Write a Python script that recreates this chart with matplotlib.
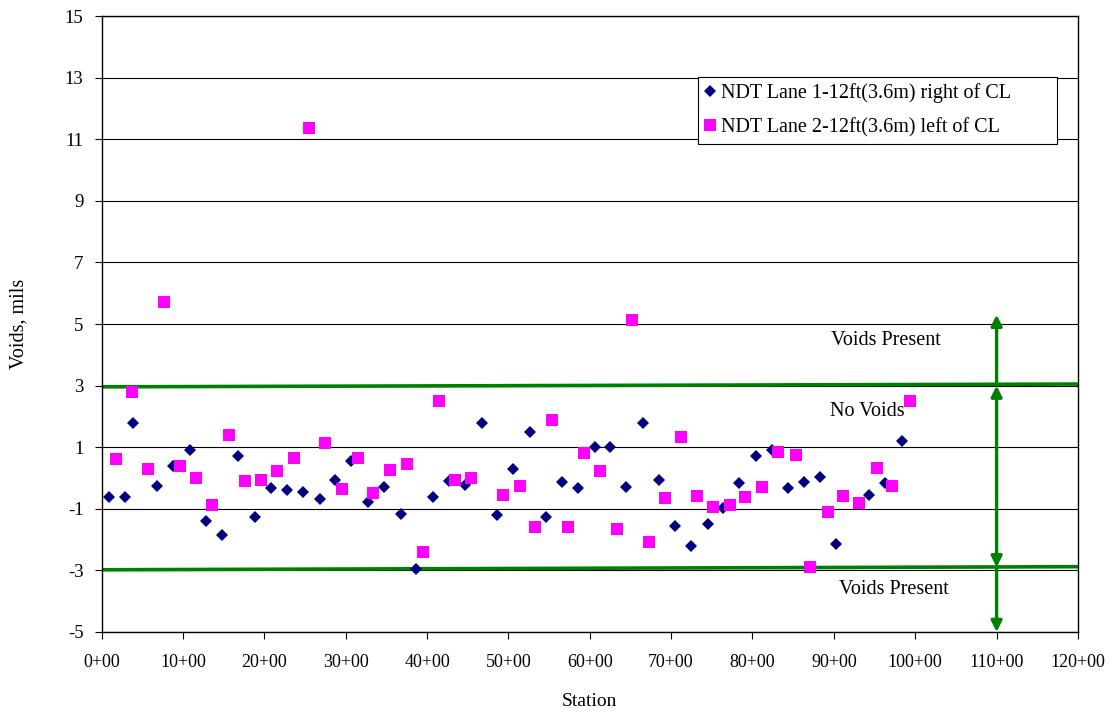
import matplotlib
matplotlib.use("Agg")
import matplotlib.pyplot as plt

# ---- data ----
lane1_station = [0.9, 2.85, 3.9, 6.85, 8.75, 10.85, 12.8, 14.8, 16.8, 18.8, 20.8, 22.8, 24.7, 26.8, 28.7,
                 30.65, 32.8, 34.7, 36.75, 38.7, 40.7, 42.7, 44.7, 46.7, 48.6, 50.6, 52.6, 54.6, 56.6, 58.6,
                 60.6, 62.55, 64.5, 66.5, 68.5, 70.5, 72.5, 74.5, 76.4, 78.4, 80.4, 82.4, 84.4, 86.3, 88.35,
                 90.3, 94.3, 96.3, 98.4]
lane1_voids = [-0.62, -0.61, 1.77, -0.25, 0.39, 0.91, -1.40, -1.85, 0.70, -1.27, -0.34, -0.38, -0.45, -0.68, -0.07,
               0.54, -0.78, -0.30, -1.17, -2.94, -0.62, -0.11, -0.24, 1.79, -1.19, 0.29, 1.50, -1.27, -0.13, -0.34,
               1.02, 1.02, -0.30, 1.77, -0.07, -1.55, -2.22, -1.50, -0.97, -0.16, 0.70, 0.90, -0.34, -0.12, 0.04,
               -2.13, -0.56, -0.16, 1.19]

lane2_station = [1.74, 3.7, 5.7, 7.68, 9.7, 11.65, 13.6, 15.66, 17.6, 19.6, 21.6, 23.6, 25.5, 27.5, 29.5,
                 31.5, 33.4, 35.5, 37.5, 39.5, 41.5, 43.4, 45.4, 49.4, 51.4, 53.3, 55.4, 57.3, 59.3, 61.3,
                 63.3, 65.2, 67.3, 69.3, 71.2, 73.2, 75.2, 77.2, 79.1, 81.2, 83.1, 85.3, 87.1, 89.25, 91.1,
                 93.1, 95.3, 97.1, 99.3]
lane2_voids = [0.62, 2.79, 0.30, 5.73, 0.39, -0.01, -0.87, 1.38, -0.09, -0.06, 0.22, 0.66, 11.36, 1.15, -0.36,
               0.66, -0.48, 0.26, 0.44, -2.39, 2.51, -0.05, -0.01, -0.55, -0.27, -1.58, 1.87, -1.58, 0.80, 0.23,
               -1.67, 5.12, -2.09, -0.66, 1.34, -0.59, -0.93, -0.87, -0.62, -0.30, 0.85, 0.75, -2.90, -1.09, -0.59,
               -0.82, 0.31, -0.27, 2.51]

lane1_label = "NDT Lane 1-12ft(3.6m) right of CL"
lane2_label = "NDT Lane 2-12ft(3.6m) left of CL"

x_ticks = list(range(0, 121, 10))
x_tick_labels = [f"{t}+00" for t in x_ticks]
y_ticks = list(range(-5, 16, 2))

upper_limit_x = [0, 120]
upper_limit_y = [2.96, 3.05]
lower_limit_x = [0, 120]
lower_limit_y = [-2.98, -2.88]

# ---- plot ----
plt.rcParams['font.family'] = ['Liberation Serif', 'DejaVu Serif']
plt.rcParams['axes.unicode_minus'] = False
fig = plt.figure(figsize=(11.12, 7.15), dpi=100)
ax = fig.add_axes([0.0913, 0.1161, 0.9694 - 0.0913, 0.9776 - 0.1161])

ax.set_xlim(0, 120)
ax.set_ylim(-5, 15)
ax.set_yticks(y_ticks)
ax.set_xticks(x_ticks)
ax.set_xticklabels(x_tick_labels)
ax.tick_params(axis='both', labelsize=13, direction='out', length=5, width=0.8, colors='black')
ax.tick_params(axis='y', labelsize=13.5)
ax.tick_params(axis='x', pad=11)
ax.tick_params(axis='y', pad=8)

for yv in y_ticks:
    ax.axhline(yv, color='black', lw=0.8, zorder=1)

ax.plot(upper_limit_x, upper_limit_y, color='#008000', lw=2.6, zorder=2, solid_capstyle='butt')
ax.plot(lower_limit_x, lower_limit_y, color='#008000', lw=2.6, zorder=2, solid_capstyle='butt')

ax.plot(lane1_station, lane1_voids, linestyle='none', marker='D', markersize=6.5,
        color='#000080', markeredgewidth=0, label=lane1_label, zorder=4)
ax.plot(lane2_station, lane2_voids, linestyle='none', marker='s', markersize=8.5,
        color='#FF00FF', markeredgewidth=0, label=lane2_label, zorder=5)

arrow_kw = dict(color='#008000', lw=2.4, mutation_scale=16, shrinkA=0, shrinkB=0)
ax.annotate('', xy=(110, 5.3), xytext=(110, 3.04),
            arrowprops=dict(arrowstyle='-|>', **arrow_kw), zorder=3)
ax.annotate('', xy=(110, 3.0), xytext=(110, -2.9),
            arrowprops=dict(arrowstyle='<|-|>', **arrow_kw), zorder=3)
ax.annotate('', xy=(110, -5.0), xytext=(110, -2.9),
            arrowprops=dict(arrowstyle='-|>', **arrow_kw), zorder=3)

ax.text(96.4, 4.47, "Voids Present", fontsize=14.5, ha='center', va='center')
ax.text(94.1, 2.17, "No Voids", fontsize=14.5, ha='center', va='center')
ax.text(97.4, -3.61, "Voids Present", fontsize=14.5, ha='center', va='center')

ax.set_ylabel("Voids, mils", fontsize=14.5, labelpad=26)
ax.set_xlabel("Station", fontsize=14, labelpad=16)

leg = ax.legend(loc='upper left', bbox_to_anchor=(0.611, 0.801, 0.3676, 0.1), mode='expand',
                fontsize=14.5, frameon=True, fancybox=False, framealpha=1, edgecolor='black',
                handletextpad=0.25, handlelength=0.6, borderpad=0.3, labelspacing=0.75,
                borderaxespad=0)
leg.get_frame().set_linewidth(0.8)
leg.set_zorder(10)

for s in ax.spines.values():
    s.set_linewidth(1.0)
    s.set_color('black')

fig.savefig("out.png", dpi=100)
